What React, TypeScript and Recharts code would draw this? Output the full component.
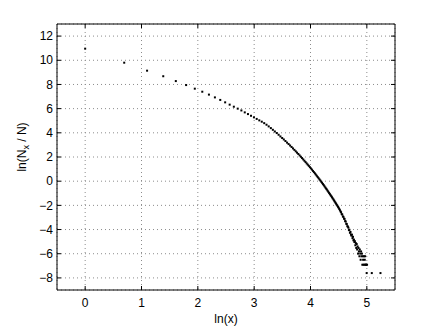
import React from 'react'
import {
  ScatterChart,
  Scatter,
  XAxis,
  YAxis,
  CartesianGrid,
  ReferenceArea
} from 'recharts'

const lnX = [
  0, 0.693, 1.099, 1.386, 1.609, 1.792, 1.946, 2.079, 2.197, 2.303,
  2.398, 2.485, 2.565, 2.639, 2.708, 2.773, 2.833, 2.89, 2.944, 2.996,
  3.045, 3.091, 3.135, 3.178, 3.219, 3.258, 3.296, 3.332, 3.367, 3.401,
  3.434, 3.466, 3.497, 3.526, 3.555, 3.584, 3.611, 3.638, 3.664, 3.689,
  3.714, 3.738, 3.761, 3.784, 3.807, 3.829, 3.85, 3.871, 3.892, 3.912,
  3.932, 3.951, 3.97, 3.989, 4.007, 4.025, 4.043, 4.06, 4.078, 4.094,
  4.111, 4.127, 4.143, 4.159, 4.174, 4.19, 4.205, 4.22, 4.234, 4.248,
  4.263, 4.277, 4.29, 4.304, 4.317, 4.331, 4.344, 4.357, 4.369, 4.382,
  4.394, 4.407, 4.419, 4.431, 4.443, 4.454, 4.466, 4.477, 4.489, 4.5,
  4.511, 4.522, 4.533, 4.543, 4.554, 4.564, 4.575, 4.585, 4.595, 4.605,
  4.615, 4.625, 4.635, 4.644, 4.654, 4.663, 4.673, 4.682, 4.691, 4.7,
  4.71, 4.718, 4.727, 4.736, 4.745, 4.754, 4.762, 4.771, 4.779, 4.787,
  4.796, 4.804, 4.812, 4.82, 4.828, 4.836, 4.844, 4.852, 4.86, 4.868,
  4.875, 4.883, 4.89, 4.898, 4.905, 4.913, 4.92, 4.927, 4.934, 4.942,
  4.949, 4.956, 4.963, 4.97, 4.977, 4.984, 4.99, 4.997, 5.004, 5.088,
  5.242
]

// ln(N_x / N) for each of them
const lnRatio = [
  10.96, 9.8, 9.14, 8.68, 8.28, 7.95, 7.65, 7.4, 7.16, 6.93,
  6.72, 6.52, 6.33, 6.16, 6.0, 5.85, 5.69, 5.55, 5.41, 5.28,
  5.15, 5.03, 4.92, 4.8, 4.67, 4.53, 4.39, 4.25, 4.11, 3.98,
  3.84, 3.7, 3.57, 3.45, 3.32, 3.19, 3.07, 2.95, 2.83, 2.71,
  2.59, 2.47, 2.36, 2.25, 2.13, 2.02, 1.91, 1.8, 1.69, 1.58,
  1.47, 1.37, 1.27, 1.16, 1.06, 0.96, 0.85, 0.75, 0.65, 0.55,
  0.45, 0.35, 0.25, 0.15, 0.06, -0.04, -0.13, -0.23, -0.32, -0.42,
  -0.52, -0.61, -0.69, -0.79, -0.88, -0.98, -1.07, -1.16, -1.24, -1.33,
  -1.42, -1.51, -1.6, -1.69, -1.78, -1.86, -1.95, -2.03, -2.12, -2.2,
  -2.3, -2.4, -2.5, -2.57, -2.72, -2.76, -2.92, -2.95, -3.1, -3.12,
  -3.3, -3.34, -3.52, -3.55, -3.72, -3.76, -3.85, -4.05, -4.02, -4.27,
  -4.2, -4.42, -4.51, -4.42, -4.71, -4.6, -4.89, -4.83, -5.03, -4.96,
  -5.3, -5.12, -5.52, -5.2, -5.65, -5.4, -5.99, -5.52, -5.81, -6.21,
  -5.65, -5.99, -6.5, -5.81, -6.21, -5.99, -6.91, -6.21, -6.5, -6.91,
  -6.21, -6.91, -6.5, -6.21, -6.91, -6.91, -6.91, -7.6, -6.91, -7.6,
  -7.6
]

const xTicks = [0, 1, 2, 3, 4, 5]
const yTicks = [-8, -6, -4, -2, 0, 2, 4, 6, 8, 10, 12]

const points = lnX.map((x, i) => ({ x, y: lnRatio[i] }))

const W = 436
const H = 327
const M = { top: 24, right: 41, bottom: 0, left: 0 }
const Y_AXIS_W = 57
const X_AXIS_H = 37
const PLOT_TOP = M.top
const PLOT_BOTTOM = H - M.bottom - X_AXIS_H
const PLOT_LEFT = M.left + Y_AXIS_W
const PLOT_RIGHT = W - M.right
const FONT = '"Liberation Sans", Arial, Helvetica, sans-serif'
const TICK_LEN = 4

const fmt = (v: number) => String(v).replace('-', '\u2212')

function XTick({ x, y, payload }: any) {
  return (
    <g>
      <line x1={x} x2={x} y1={PLOT_BOTTOM} y2={PLOT_BOTTOM - TICK_LEN} stroke="#000" />
      <line x1={x} x2={x} y1={PLOT_TOP} y2={PLOT_TOP + TICK_LEN} stroke="#000" />
      <text x={x} y={y} dy="0.71em" textAnchor="middle" fontSize={12} fill="#000" fontFamily={FONT}>
        {fmt(payload.value)}
      </text>
    </g>
  )
}

function YTick({ x, y, payload }: any) {
  return (
    <g>
      <line x1={PLOT_LEFT} x2={PLOT_LEFT + TICK_LEN} y1={y} y2={y} stroke="#000" />
      <line x1={PLOT_RIGHT} x2={PLOT_RIGHT - TICK_LEN} y1={y} y2={y} stroke="#000" />
      <text x={x} y={y} dy="0.35em" textAnchor="end" fontSize={12} fill="#000" fontFamily={FONT}>
        {fmt(payload.value)}
      </text>
    </g>
  )
}

function YLabel() {
  const cx = 22
  const cy = 147
  return (
    <text
      x={cx}
      y={cy}
      transform={`rotate(-90 ${cx} ${cy})`}
      textAnchor="middle"
      dy="0.35em"
      fontSize={12}
      fill="#000"
      fontFamily={FONT}
    >
      ln(N
      <tspan fontSize={9} dy={3}>x</tspan>
      <tspan dy={-3}> / N)</tspan>
    </text>
  )
}

const Dot = ({ cx, cy }: any) => <rect x={cx - 1} y={cy - 1} width={2} height={2} fill="#000" />

export default function App() {
  return (
    <div style={{ position: 'absolute', left: 0, top: 0, width: W, height: H, background: '#fff' }}>
      <ScatterChart width={W} height={H} margin={M}>
        <CartesianGrid stroke="#8c8c8c" strokeDasharray="1 3" />
        <XAxis
          type="number"
          dataKey="x"
          domain={[-0.5, 5.5]}
          ticks={xTicks}
          height={X_AXIS_H}
          axisLine={false}
          tickLine={false}
          tickSize={0}
          tickMargin={8}
          tick={<XTick />}
          label={{ value: 'ln(x)', position: 'insideBottom', offset: 4, fontSize: 12, fill: '#000', fontFamily: FONT }}
        />
        <YAxis
          type="number"
          dataKey="y"
          domain={[-9, 13]}
          ticks={yTicks}
          width={Y_AXIS_W}
          axisLine={false}
          tickLine={false}
          tickSize={0}
          tickMargin={4}
          tick={<YTick />}
          label={<YLabel />}
        />
        <ReferenceArea x1={-0.5} x2={5.5} y1={-9} y2={13} fill="none" fillOpacity={0} stroke="#000" strokeOpacity={1} />
        <Scatter data={points} fill="#000" shape={<Dot />} isAnimationActive={false} />
      </ScatterChart>
    </div>
  )
}
